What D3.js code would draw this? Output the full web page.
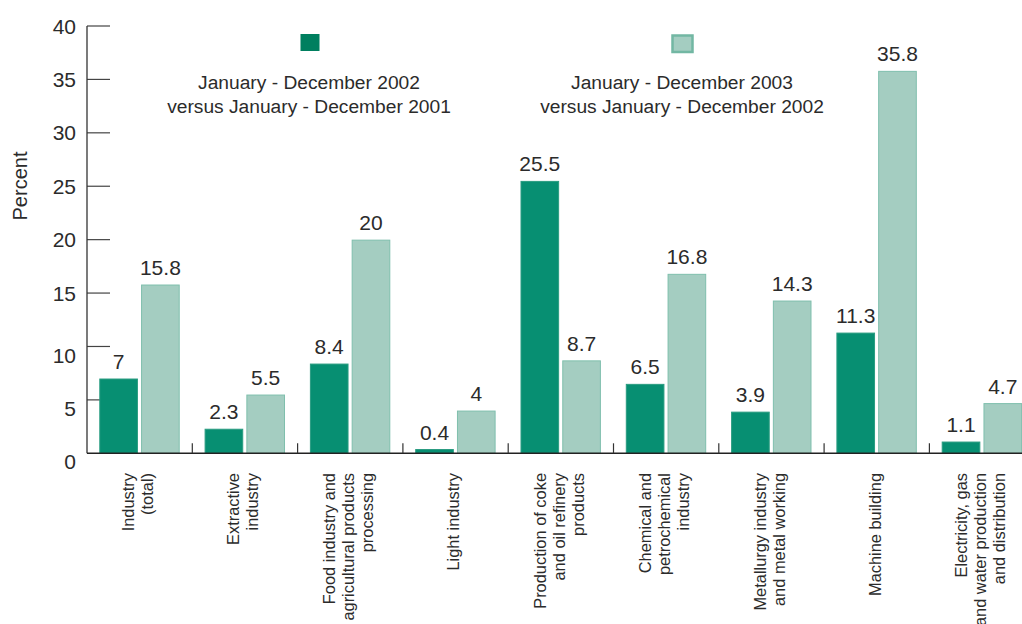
<!DOCTYPE html>
<html>
<head>
<meta charset="utf-8">
<script src="https://cdn.jsdelivr.net/npm/d3@7"></script>
<style>
  html, body { margin: 0; padding: 0; background: #fff; }
  svg { display: block; font-family: "Liberation Sans", Arial, Helvetica, sans-serif; }
</style>
</head>
<body>
<svg id="chart" width="1022" height="624"></svg>
<script>
// Industry growth by branch, percent
const categories = [
  ["Industry", "(total)"],
  ["Extractive", "industry"],
  ["Food industry and", "agricultural products", "processing"],
  ["Light industry"],
  ["Production of coke", "and oil refinery", "products"],
  ["Chemical and", "petrochemical", "industry"],
  ["Metallurgy industry", "and metal working"],
  ["Machine building"],
  ["Electricity, gas", "and water production", "and distribution"]
];
const values2002 = [7, 2.3, 8.4, 0.4, 25.5, 6.5, 3.9, 11.3, 1.1];
const values2003 = [15.8, 5.5, 20, 4, 8.7, 16.8, 14.3, 35.8, 4.7];
const seriesNames = [
  ["January - December 2002", "versus January - December 2001"],
  ["January - December 2003", "versus January - December 2002"]
];
const yTicks = [0, 5, 10, 15, 20, 25, 30, 35, 40];

const svg = d3.select("#chart");
const textColor = "#2b2b2b";
const fills = ["#078f72", "#a4cdc1"];
const strokes = ["#2a9c81", "#7fbfad"];

const left = 87, groupW = 105.3;
const y = d3.scaleLinear().domain([0, 40]).range([453.3, 26]);
const x0 = d3.scaleBand()
  .domain(d3.range(categories.length))
  .range([left, left + groupW * categories.length])
  .padding(0);
const x1 = d3.scaleBand()
  .domain([0, 1])
  .range([12.3, 92.7])
  .paddingInner(0.075);

// y tick marks run inward from the axis
const ticksG = svg.append("g");
ticksG.selectAll("line").data(yTicks.filter(d => d > 0)).join("line")
  .attr("x1", left).attr("x2", left + 23)
  .attr("y1", d => y(d)).attr("y2", d => y(d))
  .attr("stroke", "#444").attr("stroke-width", 1.2);
ticksG.selectAll("text").data(yTicks).join("text")
  .attr("x", 76)
  .attr("y", d => y(d) + (d <= 10 ? 8.5 : 0))
  .attr("dy", "0.36em")
  .attr("text-anchor", "end")
  .attr("font-size", 21)
  .attr("fill", textColor)
  .text(d => d);

// bars
const series = [values2002, values2003];
const groups = svg.append("g").selectAll("g").data(categories).join("g")
  .attr("transform", (d, i) => `translate(${x0(i)},0)`);
groups.selectAll("rect")
  .data((d, i) => series.map((s, k) => ({ k, v: s[i] })))
  .join("rect")
  .attr("x", d => x1(d.k) + 0.5)
  .attr("width", x1.bandwidth() - 1)
  .attr("y", d => y(d.v) + 0.5)
  .attr("height", d => y(0) - y(d.v) - 0.5)
  .attr("fill", d => fills[d.k])
  .attr("stroke", d => strokes[d.k])
  .attr("stroke-width", 1);

// value labels
groups.selectAll("text.val")
  .data((d, i) => series.map((s, k) => ({ k, v: s[i] })))
  .join("text")
  .attr("class", "val")
  .attr("x", d => x1(d.k) + x1.bandwidth() / 2)
  .attr("y", d => y(d.v) - 9.5)
  .attr("text-anchor", "middle")
  .attr("font-size", 21)
  .attr("fill", textColor)
  .text(d => d.v);

// axes lines
svg.append("line")
  .attr("x1", left).attr("x2", left).attr("y1", y(40)).attr("y2", y(0))
  .attr("stroke", "#333").attr("stroke-width", 1.3);
svg.append("line")
  .attr("x1", left).attr("x2", 1022).attr("y1", y(0)).attr("y2", y(0))
  .attr("stroke", "#222").attr("stroke-width", 1.5);
svg.append("g").selectAll("line").data(d3.range(1, categories.length)).join("line")
  .attr("x1", i => x0(i)).attr("x2", i => x0(i))
  .attr("y1", y(0) - 10).attr("y2", y(0))
  .attr("stroke", "#333").attr("stroke-width", 1.2);

// category labels, rotated, ending just below the axis
groups.append("text")
  .attr("transform", `translate(${x0.bandwidth() / 2},473) rotate(-90)`)
  .attr("text-anchor", "end")
  .attr("font-size", 16.4)
  .attr("fill", textColor)
  .each(function (lines) {
    const t = d3.select(this);
    const n = lines.length;
    lines.forEach((ln, j) => {
      t.append("tspan")
        .attr("x", 0)
        .attr("y", (j - (n - 1) / 2) * 19 - 2)
        .attr("dy", "0.35em")
        .text(ln);
    });
  });

// y title
svg.append("text")
  .attr("transform", "translate(20,186) rotate(-90)")
  .attr("text-anchor", "middle")
  .attr("dy", "0.35em")
  .attr("font-size", 20)
  .attr("fill", textColor)
  .text("Percent");

// legend
const legendX = [309, 682];
const legend = svg.append("g").selectAll("g").data(seriesNames).join("g");
legend.append("rect")
  .attr("x", (d, k) => k === 0 ? 300.5 : 672.5)
  .attr("y", (d, k) => k === 0 ? 34 : 35.5)
  .attr("width", (d, k) => k === 0 ? 19 : 20)
  .attr("height", (d, k) => k === 0 ? 17 : 16.5)
  .attr("fill", (d, k) => k === 0 ? "#007f5f" : fills[1])
  .attr("stroke", (d, k) => k === 0 ? "none" : "#72b7a3")
  .attr("stroke-width", 2.5);
legend.append("text")
  .attr("text-anchor", "middle")
  .attr("font-size", 19.2)
  .attr("fill", textColor)
  .each(function (lines, k) {
    const t = d3.select(this);
    lines.forEach((ln, j) => {
      t.append("tspan")
        .attr("x", legendX[k])
        .attr("y", 82 + j * 24)
        .attr("dy", "0.35em")
        .text(ln);
    });
  });
</script>
</body>
</html>
